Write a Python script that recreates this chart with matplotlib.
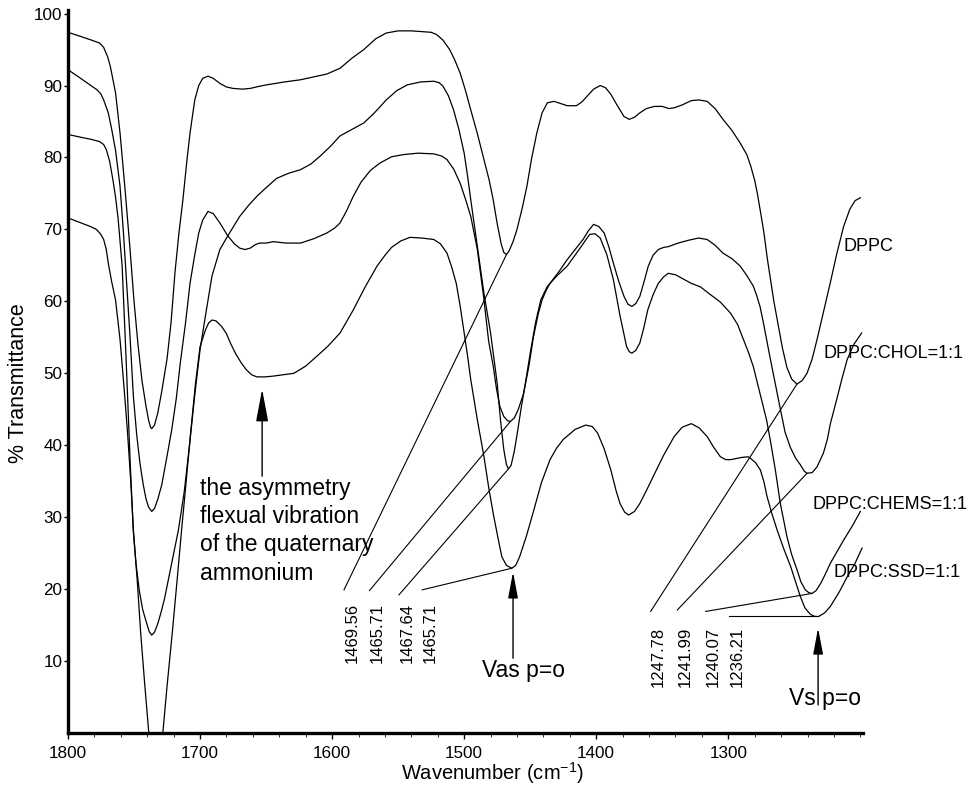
import numpy as np
import matplotlib
matplotlib.use('Agg')
from matplotlib import pyplot as plt

plt.rcParams['font.family'] = ['Liberation Sans', 'DejaVu Sans']
plt.rcParams['mathtext.default'] = 'regular'

dppc_wn = [1800, 1790, 1782, 1776, 1773, 1770, 1768, 1764, 1760.6, 1757,
           1753, 1750, 1747, 1744, 1741, 1739, 1737.5, 1736.6, 1734.5, 1732,
           1729, 1725, 1722, 1719, 1716, 1713, 1710, 1707.6, 1704, 1701,
           1698, 1694, 1690, 1685, 1680, 1675, 1668, 1662, 1655, 1649.5,
           1636, 1624, 1614, 1604, 1594, 1585, 1576, 1567, 1559, 1550,
           1540, 1533, 1525, 1521, 1516, 1511, 1507, 1503, 1499, 1495,
           1490, 1485, 1481, 1478, 1475, 1472, 1470, 1468, 1466, 1463,
           1460, 1456, 1452.5, 1449, 1445, 1441, 1437, 1432, 1427, 1422,
           1415, 1411, 1407, 1402, 1397, 1393, 1389, 1384, 1379, 1375,
           1371, 1367, 1362, 1356, 1350, 1345, 1341, 1335, 1328, 1322.5,
           1316, 1310, 1304, 1297, 1291, 1286, 1283, 1280, 1278, 1275.5,
           1273, 1270.5, 1268, 1265.5, 1263, 1259, 1255.6, 1252, 1248, 1244,
           1240.4, 1236.5, 1232.8, 1228, 1223, 1218, 1212.7, 1208, 1204, 1200]
dppc_t = [97.4, 96.8, 96.3, 95.9, 95.3, 94.0, 92.7, 89.0, 83.4, 76.0,
          67.2, 60.0, 54.0, 49.0, 45.5, 43.5, 42.5, 42.3, 42.8, 44.5,
          47.5, 52.0, 57.0, 64.0, 69.5, 74.1, 79.5, 83.4, 88.0, 90.0,
          91.0, 91.3, 91.0, 90.3, 89.8, 89.6, 89.5, 89.6, 89.9, 90.1,
          90.5, 90.8, 91.2, 91.6, 92.4, 93.8, 95.0, 96.5, 97.3, 97.6,
          97.6, 97.5, 97.4, 97.1, 96.3, 95.0, 93.5, 91.7, 89.3, 86.6,
          83.3, 79.7, 76.8, 74.1, 70.8, 68.0, 66.8, 66.5, 67.0, 68.3,
          70.0, 73.0, 76.0, 79.8, 83.4, 86.2, 87.6, 87.8, 87.5, 87.2,
          87.2, 87.7, 88.5, 89.5, 90.0, 89.7, 88.8, 87.2, 85.7, 85.3,
          85.6, 86.2, 86.8, 87.1, 87.1, 86.8, 86.9, 87.3, 87.9, 88.0,
          87.8, 86.8, 85.3, 83.7, 82.0, 80.4, 78.8, 76.8, 75.0, 72.3,
          69.5, 66.0, 63.0, 60.0, 57.5, 53.5, 50.8, 49.2, 48.5, 49.0,
          50.0, 52.0, 54.7, 58.5, 62.4, 66.5, 70.4, 72.8, 74.0, 74.4]

chol_wn = [1800, 1792, 1785, 1778, 1775, 1773, 1769.5, 1767, 1764, 1760.6,
           1758, 1755.6, 1753, 1750.5, 1748, 1745.5, 1743, 1741, 1739, 1736.6,
           1734.5, 1732, 1729, 1725, 1721.5, 1718, 1715, 1711, 1707.6, 1704,
           1701, 1698, 1694, 1690, 1685, 1679, 1674, 1670, 1666, 1662,
           1658, 1655, 1650, 1644.5, 1635, 1624, 1614, 1604, 1598, 1594,
           1589, 1584, 1578, 1571, 1564, 1555, 1546, 1535, 1523, 1517,
           1513, 1508, 1503, 1499, 1495, 1490, 1485, 1481.5, 1478, 1475.5,
           1473, 1470, 1467, 1465, 1462, 1459, 1455, 1451, 1447.5, 1444,
           1441, 1438, 1435, 1428, 1422, 1416, 1410, 1406, 1402, 1398,
           1394, 1390.5, 1387, 1383, 1379, 1376, 1373, 1370, 1367, 1364,
           1360.6, 1357, 1353, 1349, 1345.5, 1338, 1330, 1322.5, 1316, 1310,
           1304, 1297, 1291, 1286, 1281, 1278.5, 1276, 1273.5, 1271, 1268.5,
           1266, 1261, 1257, 1253, 1249, 1245.5, 1242.5, 1240.4, 1236.5, 1232.8,
           1228, 1225, 1222.7, 1218, 1214, 1210, 1205, 1199]
chol_t = [92.2, 91.2, 90.3, 89.4, 88.8, 88.0, 86.2, 84.0, 81.0, 76.0,
          69.5, 62.5, 55.0, 46.8, 41.5, 37.5, 34.5, 32.6, 31.4, 30.8,
          31.2, 32.5, 34.5, 38.5, 42.1, 46.5, 51.4, 57.0, 62.5, 66.5,
          69.5, 71.3, 72.5, 72.2, 70.9, 69.1, 68.0, 67.4, 67.2, 67.4,
          67.9, 68.1, 68.1, 68.3, 68.1, 68.1, 68.7, 69.5, 70.2, 70.9,
          72.6, 74.6, 76.6, 78.2, 79.2, 80.1, 80.4, 80.6, 80.5, 80.2,
          79.7, 78.4, 76.4, 74.2, 71.8, 67.2, 60.2, 54.5, 51.0, 47.8,
          45.4, 44.0, 43.4, 43.3, 43.8, 45.0, 47.2, 51.0, 55.1, 58.2,
          60.2, 61.5, 62.5, 64.2, 65.8, 67.2, 68.6, 69.8, 70.7, 70.4,
          69.5, 67.6, 65.3, 62.8, 60.7, 59.6, 59.3, 59.7, 60.7, 62.6,
          64.9, 66.4, 67.2, 67.5, 67.6, 68.1, 68.5, 68.8, 68.6, 67.8,
          66.7, 65.9, 64.9, 63.6, 62.1, 60.8, 59.3, 57.1, 54.7, 52.3,
          50.0, 45.4, 41.8, 39.7, 38.2, 37.3, 36.4, 36.1, 36.2, 37.0,
          38.9, 40.8, 43.0, 46.3, 49.2, 51.9, 54.0, 55.6]

chems_wn = [1800, 1790, 1782, 1776, 1773, 1771, 1768.5, 1766, 1764, 1762,
            1759, 1756, 1753, 1750.5, 1748.5, 1746, 1743.5, 1741, 1738.5, 1736.6,
            1734.5, 1732, 1729.5, 1727, 1721.5, 1716.4, 1712, 1708, 1704, 1700,
            1696, 1691, 1685, 1679, 1670, 1663, 1657, 1650, 1642, 1633,
            1624, 1616, 1609, 1601, 1594, 1585, 1576, 1568, 1559, 1551,
            1543, 1533, 1523, 1519, 1516, 1512, 1508, 1504, 1500, 1497.5,
            1495, 1490, 1485, 1480, 1475, 1472.5, 1470, 1468, 1466.5, 1464.5,
            1462, 1459.5, 1457, 1453.5, 1450, 1446, 1442, 1437, 1430, 1422,
            1413, 1405, 1401, 1397, 1392, 1387, 1382, 1377, 1375, 1373,
            1370, 1367, 1364, 1361, 1357, 1353, 1349, 1345.5, 1340, 1335,
            1328, 1321, 1314, 1306, 1298.5, 1293, 1288.5, 1284.5, 1281, 1276,
            1271, 1268, 1264.4, 1260.6, 1255.6, 1252, 1248, 1245, 1241.7, 1239,
            1236.6, 1233.5, 1230, 1226.5, 1222.7, 1218, 1212.7, 1206, 1200]
chems_t = [83.2, 82.8, 82.5, 82.2, 81.8, 81.1, 79.5, 76.9, 74.5, 71.4,
           64.9, 52.0, 38.0, 28.0, 23.5, 19.8, 17.2, 15.6, 14.1, 13.6,
           14.0, 15.2, 16.8, 18.6, 23.6, 28.2, 33.5, 40.0, 47.0, 53.3,
           57.9, 63.5, 67.2, 69.1, 71.8, 73.4, 74.6, 75.8, 77.1, 77.8,
           78.3, 79.1, 80.2, 81.6, 83.0, 83.9, 84.8, 86.2, 88.0, 89.3,
           90.1, 90.5, 90.6, 90.4, 89.9, 88.6, 86.6, 83.9, 80.6, 77.5,
           74.1, 67.6, 61.1, 55.6, 48.6, 43.5, 39.4, 37.3, 36.7, 37.2,
           39.2, 42.0, 45.0, 48.8, 52.8, 57.0, 60.2, 62.1, 63.5, 64.9,
           67.2, 69.3, 69.4, 68.8, 66.5, 63.0, 58.0, 53.7, 53.0, 52.8,
           53.2, 54.2, 56.3, 58.8, 60.9, 62.5, 63.4, 63.9, 63.7, 63.2,
           62.5, 62.0, 61.0, 59.9, 58.4, 56.8, 54.7, 52.8, 50.9, 47.2,
           43.5, 40.5, 36.6, 31.9, 27.3, 24.8, 22.7, 21.0, 19.9, 19.5,
           19.4, 19.8, 20.8, 22.1, 23.6, 25.1, 26.8, 28.8, 30.8]

ssd_wn = [1800, 1790, 1783, 1778.5, 1775.5, 1773, 1771, 1769.5, 1767, 1764,
          1760.6, 1758, 1755, 1752.5, 1750.5, 1747.5, 1745, 1742, 1739, 1736,
          1733.5, 1731, 1728, 1725, 1721, 1717.5, 1714, 1710.5, 1707, 1703.5,
          1700, 1696, 1693.5, 1691, 1688, 1683.6, 1680, 1677, 1673, 1669,
          1665, 1661, 1657, 1651, 1645, 1637, 1629, 1620, 1612, 1603,
          1594, 1584, 1575, 1566, 1560, 1555, 1548, 1541, 1532, 1523,
          1518, 1513, 1509.5, 1506, 1503, 1500, 1497.5, 1495, 1490, 1485,
          1481.5, 1478, 1474.5, 1471.5, 1468, 1464, 1461, 1458, 1453, 1448,
          1441.5, 1435, 1430, 1425, 1416, 1408, 1403, 1399, 1394, 1389,
          1385, 1382, 1378.5, 1375.5, 1371, 1367, 1362, 1357, 1349, 1341,
          1335, 1328, 1322, 1316, 1311, 1306, 1302, 1298, 1290, 1285,
          1283.3, 1279.5, 1275.8, 1273, 1270.7, 1267, 1263, 1258, 1252.7, 1249,
          1245.5, 1242, 1237.9, 1234.5, 1231.6, 1227, 1222.7, 1216, 1210, 1204,
          1198.7]
ssd_t = [71.6, 70.9, 70.4, 70.0, 69.4, 68.6, 67.2, 65.3, 62.8, 60.2,
         54.7, 49.0, 42.0, 35.0, 28.2, 21.0, 14.0, 7.0, 0.4, -4.0,
         -6.0, -4.0, 0.4, 6.5, 14.0, 21.0, 28.2, 35.0, 42.0, 48.5,
         53.7, 56.0, 57.0, 57.4, 57.3, 56.5, 55.5, 54.2, 52.7, 51.5,
         50.5, 49.8, 49.5, 49.5, 49.6, 49.8, 50.0, 51.0, 52.3, 53.8,
         55.6, 58.8, 62.0, 64.9, 66.4, 67.5, 68.4, 68.9, 68.8, 68.6,
         68.0, 66.7, 64.8, 62.5, 59.3, 55.6, 52.5, 49.1, 43.5, 38.4,
         34.2, 30.5, 27.2, 24.5, 23.3, 22.9, 23.3, 24.5, 27.3, 30.5,
         34.8, 38.0, 39.6, 40.8, 42.2, 42.8, 42.6, 41.7, 39.5, 36.6,
         33.7, 31.9, 30.7, 30.3, 30.8, 31.9, 33.7, 35.6, 38.6, 41.2,
         42.5, 43.0, 42.4, 41.2, 39.7, 38.4, 38.0, 38.0, 38.3, 38.4,
         38.2, 37.6, 36.6, 34.9, 32.9, 30.5, 28.2, 25.6, 23.1, 21.0,
         19.0, 17.4, 16.5, 16.2, 16.2, 16.7, 17.6, 19.6, 21.7, 23.6,
         25.7]

names = ['DPPC', 'DPPC:CHOL=1:1', 'DPPC:CHEMS=1:1', 'DPPC:SSD=1:1']
vas_labels = ['1469.56', '1465.71', '1467.64', '1465.71']
vs_labels = ['1247.78', '1241.99', '1240.07', '1236.21']

wns = [dppc_wn, chol_wn, chems_wn, ssd_wn]
ts = [dppc_t, chol_t, chems_t, ssd_t]

# layout of the labels (data coords)
name_xy = [(1212.6, 67.6), (1227.8, 52.8), (1236.6, 31.7), (1220.2, 22.3)]
vas_x = [1585, 1565.7, 1543.4, 1525.8]
vas_lead = [19.9, 19.8, 19.2, 19.9]
vs_x = [1352.8, 1332.6, 1311.1, 1293.4]
vs_lead = [16.9, 17.1, 16.9, 16.2]

fig = plt.figure(figsize=(9.73, 7.89), dpi=100)
ax = fig.add_axes([68/973, 56/789, 795/973, 723/789])

for i in range(4):
    wn = np.array(wns[i])
    t = np.array(ts[i])
    ax.plot(wn, t, color='black', lw=0.9)
    ax.text(name_xy[i][0], name_xy[i][1], names[i], fontsize=13,
            ha='left', va='center')
    # peak labels with leader lines to the minima
    for lab, lx, ly, lo, hi, ybot in ((vas_labels[i], vas_x[i], vas_lead[i], 1440, 1490, 9.7),
                                      (vs_labels[i], vs_x[i], vs_lead[i], 1225, 1260, 6.4)):
        k = np.argmin(np.where((wn > lo) & (wn < hi), t, np.inf))
        ax.plot([lx + 6, wn[k]], [ly, t[k]], color='black', lw=0.8)
        ax.text(lx, ybot, lab, rotation=90, ha='center', va='bottom', fontsize=12)

arrow = dict(arrowstyle='-|>,head_length=0.8,head_width=0.15', color='black',
             lw=1, shrinkA=0, shrinkB=0, mutation_scale=20)
ax.annotate('', xy=(1653, 47.8), xytext=(1653, 35.7),
            arrowprops=dict(arrow, mutation_scale=25))
ax.annotate('', xy=(1463, 22.4), xytext=(1463, 10.4), arrowprops=arrow)
ax.annotate('', xy=(1232, 14.6), xytext=(1232, 3.9), arrowprops=arrow)

note = ['the asymmetry', 'flexual vibration', 'of the quaternary', 'ammonium']
for j, line in enumerate(note):
    ax.text(1700, 33.1 - 3.93 * j, line, fontsize=16.5, ha='left', va='baseline')
ax.text(1455, 7.8, 'Vas p=o', fontsize=16.5, ha='center', va='baseline')
ax.text(1226.5, 3.9, 'Vs p=o', fontsize=16.5, ha='center', va='baseline')

ax.set_xlim(1800, 1198)
ax.set_ylim(0, 100.5)
ax.set_xticks([1800, 1700, 1600, 1500, 1400, 1300])
ax.set_xticks(np.arange(1200, 1801, 20), minor=True)
ax.set_yticks(range(10, 101, 10))
ax.tick_params(labelsize=12.3, direction='out', width=1)
ax.tick_params(axis='x', which='major', length=4, pad=5)
ax.tick_params(axis='x', which='minor', length=3)
ax.tick_params(axis='y', length=3, pad=1)
for s in ['top', 'right']:
    ax.spines[s].set_visible(False)
for s in ['left', 'bottom']:
    ax.spines[s].set_linewidth(2.4)

fig.text(492/973, 9/789, r'Wavenumber (cm$^{-1}$)', fontsize=14.5,
         ha='center', va='baseline')
fig.text(19/973, 1 - 383/789, '% Transmittance', fontsize=15.5,
         rotation=90, ha='center', va='center')

fig.savefig('out.png', dpi=100)
